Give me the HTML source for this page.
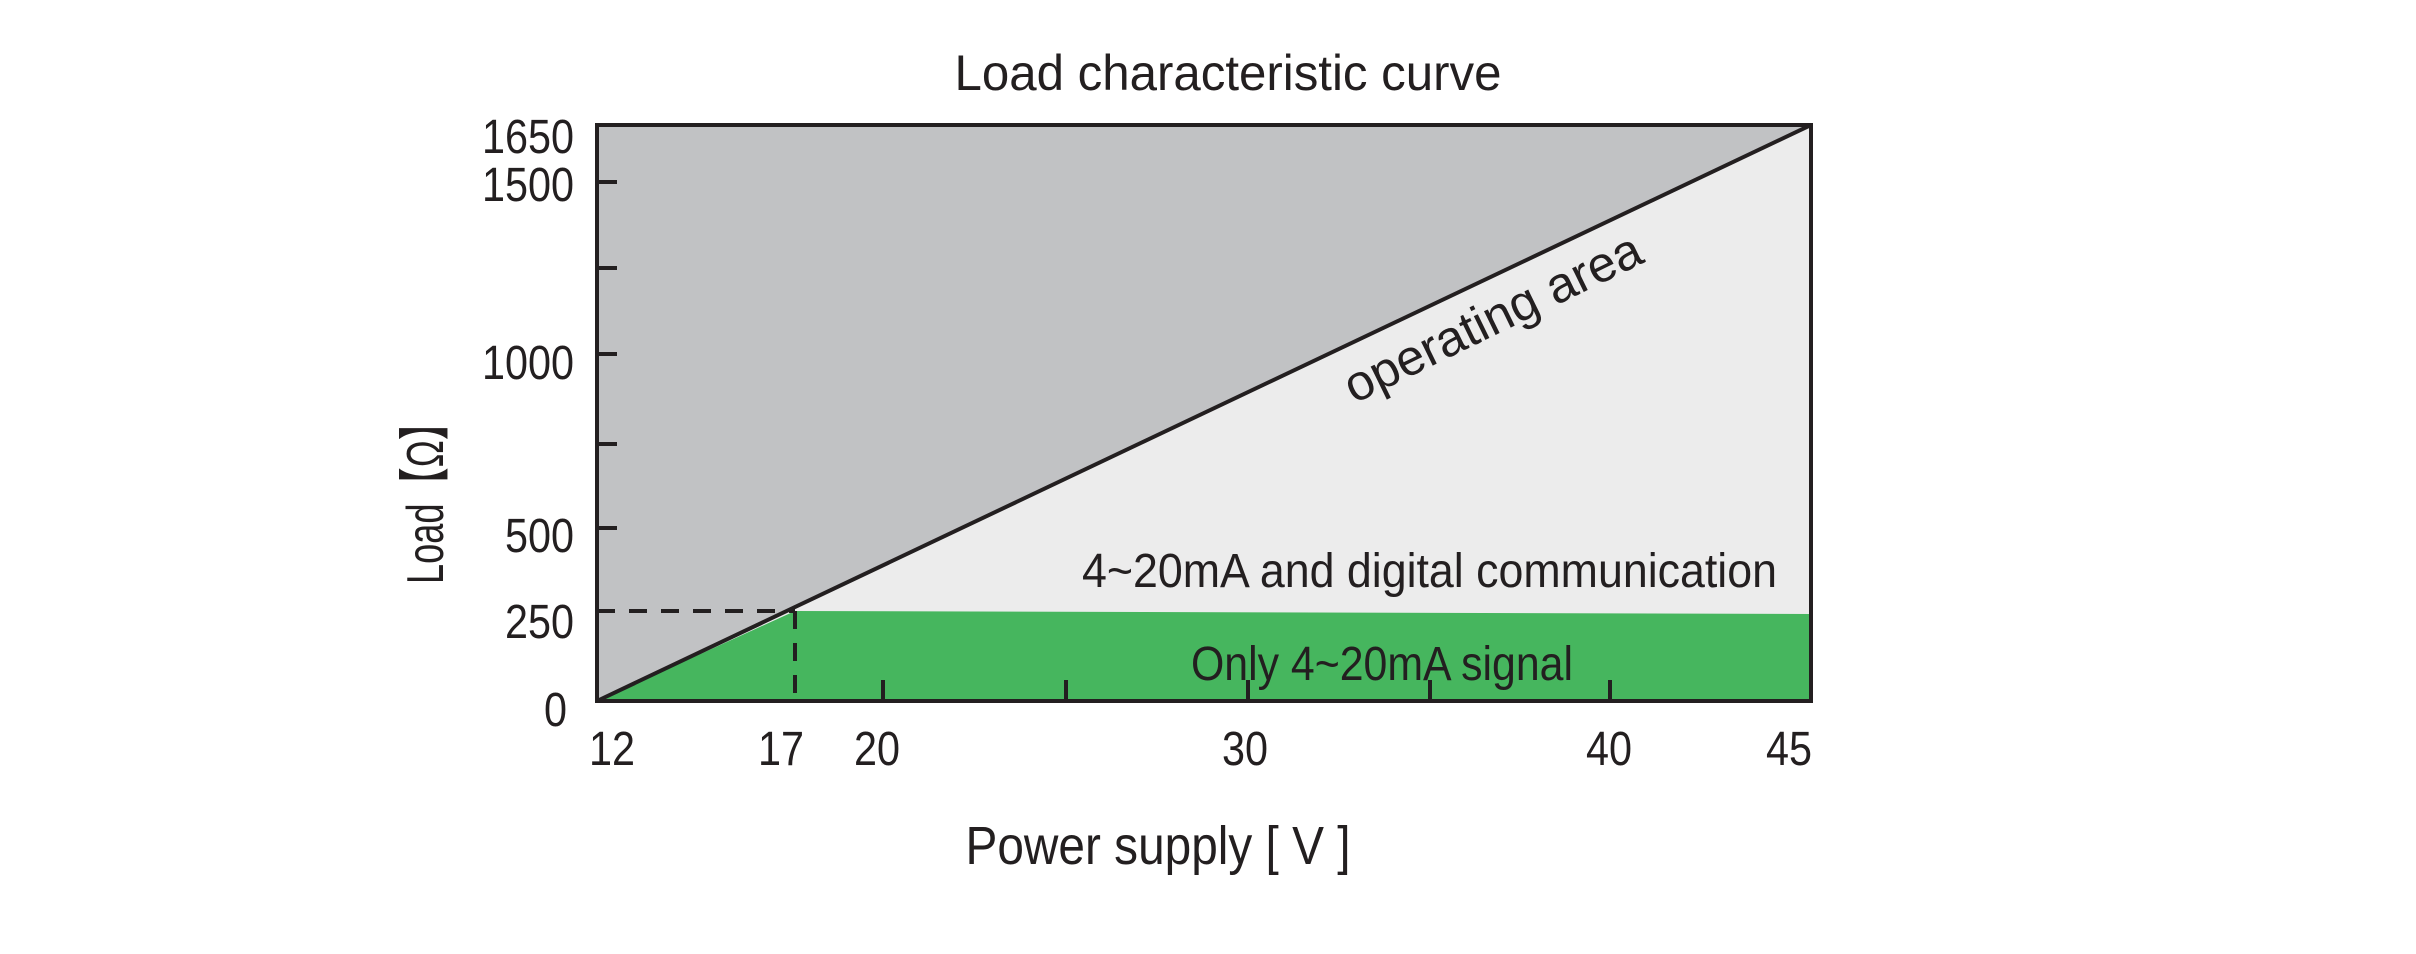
<!DOCTYPE html>
<html><head><meta charset="utf-8"><style>html,body{margin:0;padding:0;background:#fff}svg{display:block}</style></head>
<body>
<svg width="2416" height="954" viewBox="0 0 2416 954" xmlns="http://www.w3.org/2000/svg" font-family="Liberation Sans, sans-serif" fill="#231f20">
<rect x="597" y="125" width="1214" height="576" fill="#c1c2c4"/>
<polygon points="597,701 1811,125 1811,701" fill="#ececec"/>
<polygon points="597,701 795,611 1811,614 1811,701" fill="#46b65e"/>
<line x1="597" y1="701" x2="1811" y2="125" stroke="#231f20" stroke-width="4"/>
<line x1="597" y1="611" x2="795" y2="611" stroke="#231f20" stroke-width="4" stroke-dasharray="18,14"/>
<line x1="795" y1="611" x2="795" y2="701" stroke="#231f20" stroke-width="4" stroke-dasharray="18,14"/>
<rect x="597" y="125" width="1214" height="576" fill="none" stroke="#231f20" stroke-width="4"/>
<g stroke="#231f20" stroke-width="4">
<line x1="597" y1="182" x2="617" y2="182"/>
<line x1="597" y1="268" x2="617" y2="268"/>
<line x1="597" y1="354" x2="617" y2="354"/>
<line x1="597" y1="444" x2="617" y2="444"/>
<line x1="597" y1="528" x2="617" y2="528"/>
<line x1="883" y1="701" x2="883" y2="680"/>
<line x1="1066" y1="701" x2="1066" y2="680"/>
<line x1="1248" y1="701" x2="1248" y2="680"/>
<line x1="1430" y1="701" x2="1430" y2="680"/>
<line x1="1610" y1="701" x2="1610" y2="680"/>
</g>
<text x="1228" y="90" font-size="50" text-anchor="middle" textLength="547" lengthAdjust="spacingAndGlyphs">Load characteristic curve</text>
<g font-size="48" text-anchor="end" lengthAdjust="spacingAndGlyphs">
<text x="574" y="153" textLength="92" lengthAdjust="spacingAndGlyphs">1650</text>
<text x="574" y="201" textLength="92" lengthAdjust="spacingAndGlyphs">1500</text>
<text x="574" y="379" textLength="92" lengthAdjust="spacingAndGlyphs">1000</text>
<text x="574" y="552" textLength="69" lengthAdjust="spacingAndGlyphs">500</text>
<text x="574" y="638" textLength="69" lengthAdjust="spacingAndGlyphs">250</text>
<text x="567" y="726" textLength="23" lengthAdjust="spacingAndGlyphs">0</text>
</g>
<g font-size="48" text-anchor="middle">
<text x="612" y="765" textLength="46" lengthAdjust="spacingAndGlyphs">12</text>
<text x="781" y="765" textLength="46" lengthAdjust="spacingAndGlyphs">17</text>
<text x="877" y="765" textLength="46" lengthAdjust="spacingAndGlyphs">20</text>
<text x="1245" y="765" textLength="46" lengthAdjust="spacingAndGlyphs">30</text>
<text x="1609" y="765" textLength="46" lengthAdjust="spacingAndGlyphs">40</text>
<text x="1789" y="765" textLength="46" lengthAdjust="spacingAndGlyphs">45</text>
</g>
<text x="1158" y="864" font-size="54" text-anchor="middle" textLength="385" lengthAdjust="spacingAndGlyphs">Power supply [ V ]</text>
<text transform="translate(443,494) rotate(-90)" font-size="52" text-anchor="middle" textLength="180" lengthAdjust="spacingAndGlyphs">Load【Ω】</text>
<text transform="translate(1354,404) rotate(-26)" font-size="50" textLength="325" lengthAdjust="spacingAndGlyphs">operating area</text>
<text x="1082" y="587" font-size="48" textLength="695" lengthAdjust="spacingAndGlyphs">4~20mA and digital communication</text>
<text x="1191" y="680" font-size="48" textLength="382" lengthAdjust="spacingAndGlyphs">Only 4~20mA signal</text>
</svg>
</body></html>
